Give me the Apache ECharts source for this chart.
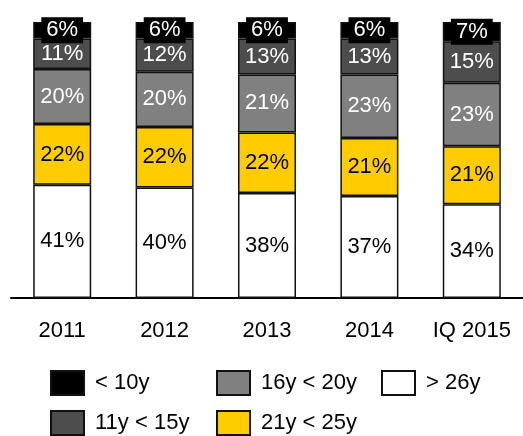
<!DOCTYPE html>
<html>
<head>
<meta charset="utf-8">
<script src="https://cdn.jsdelivr.net/npm/echarts@6/dist/echarts.min.js"></script>
<style>
  html, body { margin: 0; padding: 0; background: #fff; }
  #chart { width: 523px; height: 436px; }
</style>
</head>
<body>
<div id="chart"></div>
<script>
const categories = ["2011", "2012", "2013", "2014", "IQ 2015"];
const under10 = [6, 6, 6, 6, 7];
const y11to15 = [11, 12, 13, 13, 15];
const y16to20 = [20, 20, 21, 23, 23];
const y21to25 = [22, 22, 22, 21, 21];
const over26 = [41, 40, 38, 37, 34];

const font = "Liberation Sans, Arial, sans-serif";

function seg(name, data, fill, textColor, extraLabel) {
  return {
    name: name,
    type: "bar",
    stack: "total",
    barWidth: 58,
    data: data,
    itemStyle: { color: fill, borderColor: "#111", borderWidth: 1.5 },
    label: Object.assign({
      show: true,
      position: "inside",
      formatter: "{c}%",
      color: textColor,
      fontSize: 22,
      fontFamily: font
    }, extraLabel || {})
  };
}

const chart = echarts.init(document.getElementById("chart"));
const legendBase = {
  orient: "vertical",
  top: 370,
  padding: 0,
  itemWidth: 33,
  itemHeight: 24,
  itemGap: 14,
  icon: "rect",
  selectedMode: false,
  textStyle: { fontSize: 22, fontFamily: font, color: "#000", padding: [0, 0, 0, 6] }
};

chart.setOption({
  animation: false,
  grid: { left: 11, width: 521, top: 22, bottom: 138 },
  legend: [
    Object.assign({}, legendBase, { left: 50, data: ["< 10y", "11y < 15y"] }),
    Object.assign({}, legendBase, { left: 216, data: ["16y < 20y", "21y < 25y"] }),
    Object.assign({}, legendBase, { left: 381, data: ["> 26y"] })
  ],
  xAxis: {
    type: "category",
    data: categories,
    axisTick: { show: false },
    axisLine: { lineStyle: { color: "#000", width: 2 } },
    axisLabel: { color: "#000", fontSize: 22, fontFamily: font, margin: 22 }
  },
  yAxis: { type: "value", min: 0, max: 100, show: false },
  series: [
    seg("> 26y", over26, "#ffffff", "#000"),
    seg("21y < 25y", y21to25, "#ffcc00", "#000"),
    seg("16y < 20y", y16to20, "#808080", "#fff"),
    seg("11y < 15y", y11to15, "#4d4d4d", "#fff"),
    seg("< 10y", under10, "#000000", "#fff", { backgroundColor: "#000", padding: [2, 5] })
  ]
});
</script>
</body>
</html>
